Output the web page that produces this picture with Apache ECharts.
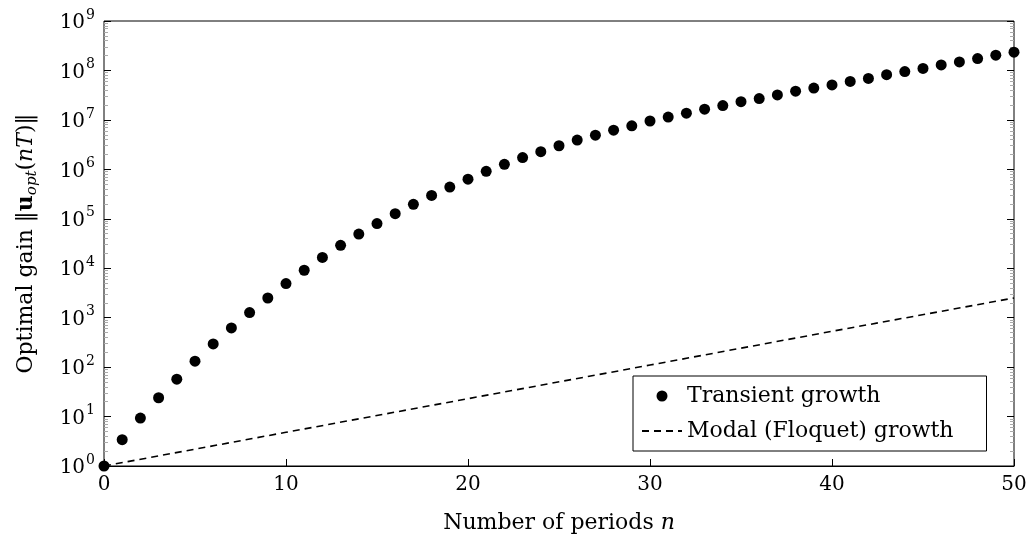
<!DOCTYPE html>
<html>
<head>
<meta charset="utf-8">
<script src="https://cdn.jsdelivr.net/npm/echarts@6/dist/echarts.min.js"></script>
<style>
  html, body { margin: 0; padding: 0; background: #fff; }
  #chart { width: 1035px; height: 535px; }
</style>
</head>
<body>
<div id="chart"></div>
<script>
// number of periods n
const periods = [0, 1, 2, 3, 4, 5, 6, 7, 8, 9, 10, 11, 12, 13, 14, 15, 16, 17, 18, 19, 20,
  21, 22, 23, 24, 25, 26, 27, 28, 29, 30, 31, 32, 33, 34, 35, 36, 37, 38, 39, 40,
  41, 42, 43, 44, 45, 46, 47, 48, 49, 50]

// optimal gain (transient growth)
const transientGain = [1, 3.4, 9.3, 24, 57, 132, 295, 620, 1270, 2500,
  4900, 9100, 16500, 29000, 49000, 80000, 127000, 196000, 297000, 437000,
  633000, 910000, 1.26e6, 1.73e6, 2.28e6, 3.0e6, 3.9e6, 4.9e6, 6.2e6, 7.6e6,
  9.5e6, 1.14e7, 1.37e7, 1.65e7, 1.95e7, 2.33e7, 2.7e7, 3.2e7, 3.8e7, 4.4e7,
  5.1e7, 6.0e7, 6.9e7, 8.2e7, 9.5e7, 1.1e8, 1.29e8, 1.49e8, 1.74e8, 2.04e8, 2.34e8]

// modal (Floquet) growth, straight in log scale
const modalN = [0, 10, 20, 30, 40, 50]
const modalGain = [1, 4.8, 23, 110, 530, 2500]

const xTicks = [0, 10, 20, 30, 40, 50]
const yTicks = [1, 10, 100, 1e3, 1e4, 1e5, 1e6, 1e7, 1e8, 1e9]
const minorMult = [2, 3, 4, 5, 6, 7, 8, 9]

const yMinor = []
yTicks.slice(0, -1).forEach(d => minorMult.forEach(m => yMinor.push(d * m)))

const FONT = 'DejaVu Serif'

const chart = echarts.init(document.getElementById('chart'))

function logAxis(position, ticks, tickLen, tickColor, withLabels) {
  return {
    type: 'log',
    logBase: 10,
    min: 1,
    max: 1e9,
    position: position,
    axisLine: { show: false },
    splitLine: { show: false },
    minorTick: { show: false },
    axisTick: {
      show: true,
      inside: true,
      length: tickLen,
      customValues: ticks,
      lineStyle: { color: tickColor, width: 1 },
    },
    axisLabel: withLabels ? {
      show: true,
      customValues: ticks,
      margin: 9,
      formatter: v => '{b|10}{s|' + Math.round(Math.log10(v)) + '}',
      rich: {
        b: { fontFamily: FONT, fontSize: 20, color: '#000', lineHeight: 26, padding: [4, 0, 0, 0] },
        s: { fontFamily: FONT, fontSize: 14, color: '#000', lineHeight: 14, padding: [0, 0, 12, 1] },
      },
    } : { show: false },
  }
}

const yMain = logAxis('left', yTicks, 7, '#000', true)
yMain.name = 'Optimal gain ‖{bu|u}{sub|opt}({it|nT})‖'
yMain.nameLocation = 'middle'
yMain.nameGap = 64
yMain.nameTextStyle = {
  fontFamily: FONT,
  fontSize: 22,
  color: '#000',
  rich: {
    bu: { fontFamily: FONT, fontSize: 22, fontWeight: 'bold', color: '#000', lineHeight: 28 },
    it: { fontFamily: FONT, fontSize: 22, fontStyle: 'italic', color: '#000', lineHeight: 28 },
    sub: { fontFamily: FONT, fontSize: 15, fontStyle: 'italic', color: '#000', lineHeight: 15, padding: [13, 0, 0, 0] },
  },
}

const option = {
  animation: false,
  backgroundColor: '#fff',
  grid: {
    left: 104, right: 21, top: 21, bottom: 69,
    outerBoundsMode: 'none',
    containLabel: false,
    show: true,
    borderColor: '#000',
    borderWidth: 1,
    backgroundColor: 'transparent',
  },
  legend: {
    orient: 'vertical',
    left: 633,
    top: 376,
    padding: [8, 33, 8, 8],
    itemGap: 11,
    itemWidth: 40,
    itemHeight: 11,
    borderColor: '#000',
    borderWidth: 1,
    borderRadius: 0,
    backgroundColor: '#fff',
    textStyle: { fontFamily: FONT, fontSize: 22, color: '#000', lineHeight: 24 },
    data: [
      { name: 'Transient growth', icon: 'circle' },
      { name: 'Modal (Floquet) growth', itemStyle: { opacity: 0 } },
    ],
  },
  xAxis: {
    type: 'value',
    min: 0,
    max: 50,
    interval: 10,
    name: 'Number of periods {it|n}',
    nameLocation: 'middle',
    nameGap: 46,
    nameTextStyle: {
      fontFamily: FONT, fontSize: 22, color: '#000',
      rich: { it: { fontFamily: FONT, fontSize: 22, fontStyle: 'italic', color: '#000' } },
    },
    axisLine: { show: true, lineStyle: { color: '#000', width: 1 } },
    axisTick: { show: true, inside: true, length: 7, lineStyle: { color: '#000' } },
    splitLine: { show: false },
    axisLabel: {
      fontFamily: FONT, fontSize: 20, color: '#000', margin: 9,
      customValues: xTicks,
    },
  },
  yAxis: [
    yMain,
    logAxis('left', yMinor, 4, '#aaa', false),
    logAxis('right', yTicks, 7, '#000', false),
    logAxis('right', yMinor, 4, '#aaa', false),
  ],
  series: [
    {
      name: 'Modal (Floquet) growth',
      type: 'line',
      data: modalN.map((n, i) => [n, modalGain[i]]),
      symbol: 'none',
      yAxisIndex: 0,
      lineStyle: { color: '#000', width: 1.6, type: [7, 5] },
      itemStyle: { color: '#000' },
      z: 2,
    },
    {
      name: 'Transient growth',
      type: 'scatter',
      data: periods.map((n, i) => [n, transientGain[i]]),
      yAxisIndex: 0,
      symbol: 'circle',
      symbolSize: 11,
      clip: false,
      itemStyle: { color: '#000', opacity: 1 },
      z: 3,
    },
  ],
}

chart.setOption(option)
</script>
</body>
</html>
